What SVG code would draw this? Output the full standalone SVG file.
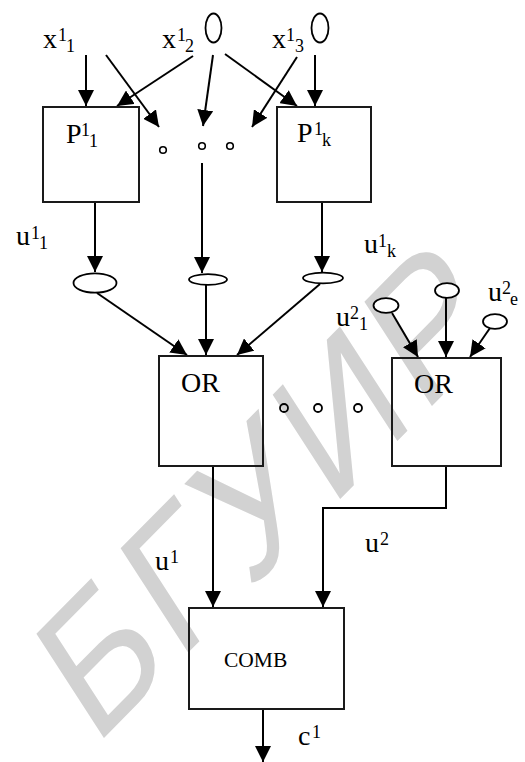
<svg xmlns="http://www.w3.org/2000/svg" width="525" height="762" viewBox="0 0 525 762">
<style>
.box{fill:none;stroke:#1a1a1a;stroke-width:2}
.ln{fill:none;stroke:#000;stroke-width:2;marker-end:url(#ah)}
.ell{fill:#fff;stroke:#000;stroke-width:1.8}
.t{font-family:"Liberation Serif","Times New Roman",serif;font-size:28px;fill:#000}
.s{font-size:18px}
.bt{font-family:"Liberation Serif","Times New Roman",serif;fill:#000}
.wm{font-family:"Liberation Sans",Arial,sans-serif;font-size:156px;letter-spacing:6px;fill:#d2d2d2}
</style>
<defs>
<marker id="ah" markerUnits="userSpaceOnUse" markerWidth="16" markerHeight="16" refX="16" refY="8" orient="auto">
<path d="M0,0 L16,8 L0,16 z" fill="#000"/>
</marker>
</defs>
<rect width="525" height="762" fill="#fff"/>
<text class="wm" transform="translate(94,748) scale(1,1.25) rotate(-39)">БГУИР</text>

<g id="connectors">
<path class="ln" d="M86,55 L86,106"/>
<path class="ln" d="M106,55 L159,127"/>
<path class="ln" d="M193,56 L117,106"/>
<path class="ln" d="M213,55 L203,126"/>
<path class="ln" d="M225,54 L297,106"/>
<path class="ln" d="M297,57 L252,127"/>
<path class="ln" d="M315,55 L315,106"/>
<path class="ln" d="M95,202 L95,272"/>
<path class="ln" d="M202,163 L202,273"/>
<path class="ln" d="M322,202 L322,272"/>
<path class="ln" d="M97,293 L187,355"/>
<path class="ln" d="M206,285 L206,355"/>
<path class="ln" d="M320,284 L237,355"/>
<path class="ln" d="M392,313 L418,357"/>
<path class="ln" d="M446,298 L446,357"/>
<path class="ln" d="M490,328 L470,357"/>
<path class="ln" d="M213,466 L213,607"/>
<path class="ln" d="M446,466 L446,508 L323,508 L323,607"/>
<path class="ln" d="M263,709 L263,762"/>
</g>

<g id="in-x11"><text class="t" x="43" y="48">x<tspan class="s" x="58" y="41">1</tspan><tspan class="s" x="66" y="52">1</tspan></text></g>
<g id="in-x12"><text class="t" x="162" y="48">x<tspan class="s" x="177" y="41">1</tspan><tspan class="s" x="185" y="52">2</tspan></text></g>
<g id="in-x13"><text class="t" x="272" y="48">x<tspan class="s" x="286" y="41">1</tspan><tspan class="s" x="295" y="52">3</tspan></text></g>
<g id="zero1"><ellipse class="ell" cx="213.5" cy="28" rx="8" ry="14.5" fill="none"/></g>
<g id="zero2"><ellipse class="ell" cx="320" cy="28" rx="8.5" ry="14.5" fill="none"/></g>

<g id="P11">
<rect class="box" x="43" y="107" width="96" height="95"/>
<text class="t" x="66" y="143">P<tspan class="s" x="81" y="136">1</tspan><tspan class="s" x="89" y="147">1</tspan></text>
</g>
<g id="P1k">
<rect class="box" x="277" y="107" width="94" height="95"/>
<text class="t" x="297" y="142">P<tspan class="s" x="314" y="135">1</tspan><tspan class="s" x="322" y="146">k</tspan></text>
</g>
<g id="dots-top">
<circle cx="163" cy="150" r="3.3" fill="none" stroke="#000" stroke-width="1.6"/>
<circle cx="202" cy="146" r="3.3" fill="none" stroke="#000" stroke-width="1.6"/>
<circle cx="230" cy="146" r="3.3" fill="none" stroke="#000" stroke-width="1.6"/>
</g>

<g id="e1"><ellipse class="ell" cx="95" cy="283" rx="21.5" ry="9.7"/></g>
<g id="e2"><ellipse class="ell" cx="208" cy="279.5" rx="19" ry="5.3"/></g>
<g id="e3"><ellipse class="ell" cx="323" cy="278" rx="20" ry="5.3"/></g>
<g id="lbl-u11"><text class="t" x="16" y="245">u<tspan class="s" x="31" y="239">1</tspan><tspan class="s" x="39" y="249">1</tspan></text></g>
<g id="lbl-u1k"><text class="t" x="364" y="253">u<tspan class="s" x="378" y="247">1</tspan><tspan class="s" x="387" y="257">k</tspan></text></g>

<g id="e4"><ellipse class="ell" cx="386" cy="305.5" rx="12.5" ry="7.3"/></g>
<g id="e5"><ellipse class="ell" cx="447" cy="290.5" rx="12" ry="7.3"/></g>
<g id="e6"><ellipse class="ell" cx="495" cy="321.5" rx="12" ry="7.3"/></g>
<g id="lbl-u21"><text class="t" x="336" y="326">u<tspan class="s" x="350" y="319">2</tspan><tspan class="s" x="359" y="330">1</tspan></text></g>
<g id="lbl-u2e"><text class="t" x="488" y="301">u<tspan class="s" x="502" y="294">2</tspan><tspan class="s" x="510" y="305">e</tspan></text></g>

<g id="OR1">
<rect class="box" x="159" y="356" width="104" height="110"/>
<text class="bt" x="181" y="392" font-size="28">OR</text>
</g>
<g id="dots-mid">
<circle cx="284" cy="408" r="4" fill="none" stroke="#000" stroke-width="1.8"/>
<circle cx="318" cy="408" r="4" fill="none" stroke="#000" stroke-width="1.8"/>
<circle cx="358" cy="408" r="4" fill="none" stroke="#000" stroke-width="1.8"/>
</g>
<g id="OR2">
<rect class="box" x="392" y="358" width="109" height="108"/>
<text class="bt" x="414" y="393" font-size="28">OR</text>
</g>

<g id="lbl-u1"><text class="t" x="155" y="570">u<tspan class="s" x="170" y="563">1</tspan></text></g>
<g id="lbl-u2"><text class="t" x="365" y="552">u<tspan class="s" x="380" y="545">2</tspan></text></g>

<g id="COMB">
<rect class="box" x="189" y="608" width="155" height="101"/>
<text class="bt" x="224" y="667" font-size="21.5">COMB</text>
</g>
<g id="lbl-c1"><text class="t" x="298" y="745">c<tspan class="s" x="312" y="738">1</tspan></text></g>
</svg>
